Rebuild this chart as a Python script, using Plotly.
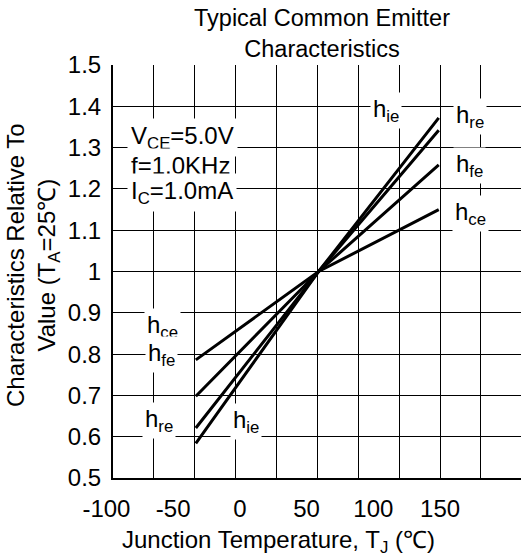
import plotly.graph_objects as go

# ---------------- data ----------------
temps = [-33, 59, 149]                 # junction temperature, degC (as read on the printed axis)
h_ie = [0.584, 1.0, 1.372]
h_re = [0.621, 1.0, 1.342]
h_fe = [0.698, 1.0, 1.258]
h_ce = [0.786, 1.0, 1.150]

x_tick_vals = [-100, -50, 0, 50, 100, 150]
x_tick_text = ["-100", "-50", "0", "50", "100", "150"]
y_tick_vals = [0.5, 0.6, 0.7, 0.8, 0.9, 1.0, 1.1, 1.2, 1.3, 1.4, 1.5]
y_tick_text = ["0.5", "0.6", "0.7", "0.8", "0.9", "1", "1.1", "1.2", "1.3", "1.4", "1.5"]

series = [("h_ie", h_ie), ("h_re", h_re), ("h_fe", h_fe), ("h_ce", h_ce)]

# ---------------- layout geometry ----------------
W, H = 521, 559
PL, PT, PB = 113, 65, 478          # plot area edges in px
PX_PER_DEG = 1.3347
PX_AT_M100 = 106.4
FONT = "Liberation Sans, Arial, sans-serif"
FS = 24


def px_to_x(px):
    return (px - PX_AT_M100) / PX_PER_DEG - 100


def px_to_y(py):
    return 1.5 - (py - PT) / (PB - PT)


def paper_x(px):
    return px / W


def paper_y(py):
    return 1 - (py - PT) / (PB - PT)


fig = go.Figure()
for name, vals in series:
    fig.add_trace(go.Scatter(x=temps, y=vals, mode="lines", name=name,
                             line=dict(color="black", width=3),
                             showlegend=False, hoverinfo="skip"))
# empty trace to create the label-axis subplot
fig.add_trace(go.Scatter(x=[], y=[], xaxis="x2", yaxis="y2", showlegend=False))

grid_dtick = (150 - px_to_x(PL)) / 8

fig.update_layout(
    width=W, height=H,
    margin=dict(l=0, r=0, t=PT, b=H - PB),
    paper_bgcolor="white", plot_bgcolor="rgba(0,0,0,0)",
    font=dict(family=FONT, size=FS, color="black"),
    title=dict(text="Typical Common Emitter<br>Characteristics",
               x=paper_x(322), xanchor="center", xref="container",
               y=1 - 26 / H, yanchor="middle", yref="container",
               font=dict(size=FS - 0.5, family=FONT)),
    xaxis=dict(domain=[PL / W, 1], range=[px_to_x(PL), px_to_x(W)],
               tick0=150, dtick=grid_dtick, showticklabels=False, ticks="",
               showgrid=True, gridcolor="black", gridwidth=1,
               showline=True, linecolor="black", linewidth=2, zeroline=False),
    yaxis=dict(domain=[0, 1], range=[0.5, 1.5], tickvals=y_tick_vals,
               ticktext=y_tick_text, ticks="", ticklabelstandoff=5,
               showgrid=True, gridcolor="black", gridwidth=1,
               showline=True, linecolor="black", linewidth=2, zeroline=False,
               tickfont=dict(size=FS)),
    xaxis2=dict(domain=[0, 1], anchor="y2", range=[px_to_x(0), px_to_x(W)],
                tickvals=x_tick_vals, ticktext=x_tick_text, ticks="",
                ticklabelstandoff=14,
                showgrid=False, showline=False, zeroline=False,
                tickfont=dict(size=FS)),
    yaxis2=dict(domain=[0, 1], anchor="x2", range=[0.5, 1.5], visible=False),
)

ann = []
# axis titles
ann.append(dict(text="Junction Temperature, T<sub>J</sub> (℃)", xref="paper", yref="paper",
                x=paper_x(278), y=paper_y(541), xanchor="center", yanchor="middle",
                showarrow=False))
ann.append(dict(text="Characteristics Relative To<br>Value (T<sub>A</sub>=25℃)",
                xref="paper", yref="paper", x=paper_x(33), y=paper_y(265),
                xanchor="center", yanchor="middle", textangle=-90, showarrow=False))
# condition block
cond = [("V<sub>CE</sub>=5.0V", 137), ("f=1.0KHz", 165), ("I<sub>C</sub>=1.0mA", 192)]
for txt, py in cond:
    ann.append(dict(text=txt, xref="x", yref="y", x=px_to_x(127), y=px_to_y(py),
                    xanchor="left", yanchor="middle", showarrow=False,
                    bgcolor="white", borderpad=3))
# curve labels
labels = [("h<sub>ie</sub>", 386, 110), ("h<sub>re</sub>", 470, 116),
          ("h<sub>fe</sub>", 469, 165), ("h<sub>ce</sub>", 470, 213),
          ("h<sub>ce</sub>", 162, 326), ("h<sub>fe</sub>", 161, 354),
          ("h<sub>re</sub>", 159, 420), ("h<sub>ie</sub>", 246, 421)]
for txt, px, py in labels:
    ann.append(dict(text=txt, xref="x", yref="y", x=px_to_x(px), y=px_to_y(py),
                    xanchor="center", yanchor="middle", showarrow=False,
                    bgcolor="white", borderpad=2))
fig.update_layout(annotations=ann)

fig.write_html("out.html", config={"displayModeBar": False},
               post_script="document.body.style.margin='0';")
